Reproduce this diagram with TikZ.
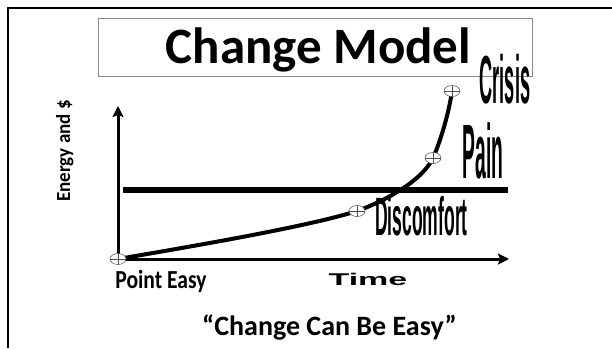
\documentclass[tikz,border=0pt]{standalone}
\usepackage{fontspec}
\setmainfont{Carlito}
\newfontfamily\arialfont{Liberation Sans}
\usetikzlibrary{arrows.meta,shapes.geometric,backgrounds}

\newcommand{\tallword}[3]{\scalebox{#1}[1]{\arialfont\bfseries\fontsize{#2}{#2}\selectfont #3}}

\tikzset{
  stage/.style={ellipse, draw=black!70, line width=0.5pt, fill=white,
    minimum width=16pt, minimum height=11pt, inner sep=0pt,
    path picture={\draw[black!70, line width=0.4pt]
      (path picture bounding box.north) -- (path picture bounding box.south)
      (path picture bounding box.west) -- (path picture bounding box.east);}},
  axisline/.style={line width=3pt, -{Stealth[length=11pt,width=11pt,inset=2pt]}},
}

\begin{document}
\begin{tikzpicture}[x=1pt,y=-1pt]
\useasboundingbox (0,0) rectangle (612,348);

% slide frame and title
\draw[line width=2.5pt] (8,348) -- (8,8) -- (612,8);
\node[draw=black!45, line width=0.7pt, minimum width=434pt, minimum height=58pt] (titlebox) at (315,47) {};
\node[anchor=base, font=\bfseries\fontsize{51}{51}\selectfont] (title) at (318.5,63) {Change Model};

% stages along the curve
\node[stage] (easy) at (118,259) {};
\node[stage] (discomfort) at (357,211) {};
\node[stage] (pain) at (433,158) {};
\node[stage] (crisis) at (452,91) {};

\coordinate (ytip) at (118,106);
\coordinate (xtip) at (509,259);
\coordinate (limitL) at (123,190);
\coordinate (limitR) at (508,190);

\begin{scope}[on background layer]
\draw[axisline] (easy.center) -- (ytip);
\draw[axisline] (easy.center) -- (xtip);
\draw[line width=5.5pt] (limitL) -- (limitR);
\draw[line width=4pt] (easy.center)
    .. controls (200,245) and (310,226) .. (discomfort.center)
    .. controls (385,201) and (422,181) .. (pain.center)
    .. controls (441,140) and (449,112) .. (crisis.center);
\end{scope}

% labels
\node[anchor=base] (crisislabel) at (505,103) {\tallword{0.267}{68}{Crisis}};
\node[anchor=base] (painlabel) at (483,178) {\tallword{0.25}{77}{Pain}};
\node[anchor=base] (discomfortlabel) at (421.5,235) {\tallword{0.325}{54}{Discomfort}};
\node[anchor=base] (timelabel) at (368,285) {\scalebox{2}[1]{\arialfont\bfseries\fontsize{17}{17}\selectfont Time}};
\node[anchor=base] (easylabel) at (161,288) {\scalebox{0.83}[1]{\bfseries\fontsize{26}{26}\selectfont Point Easy}};
\node[anchor=base, rotate=90] (energylabel) at (70,151) {\scalebox{0.95}[1]{\bfseries\fontsize{20}{20}\selectfont Energy and \$}};
\node[anchor=base] (motto) at (329.5,335) {\bfseries\fontsize{28}{28}\selectfont “Change Can Be Easy”};
\end{tikzpicture}
\end{document}
